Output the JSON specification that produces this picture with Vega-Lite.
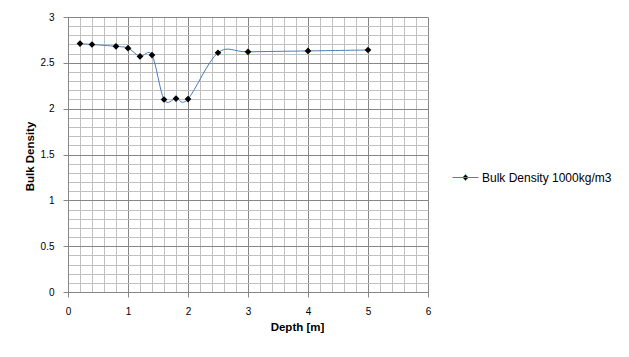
{
  "$schema": "https://vega.github.io/schema/vega-lite/v6.json",
  "width": 360,
  "height": 275,
  "autosize": "none",
  "padding": {"left": 68, "top": 17, "right": 201, "bottom": 65},
  "background": "white",
  "config": {
    "view": {"stroke": null},
    "font": "Liberation Sans"
  },
  "data": {
    "values": [
      {"depth": 0.2, "density": 2.71},
      {"depth": 0.4, "density": 2.70},
      {"depth": 0.8, "density": 2.68},
      {"depth": 1.0, "density": 2.66},
      {"depth": 1.2, "density": 2.57},
      {"depth": 1.4, "density": 2.585},
      {"depth": 1.6, "density": 2.10},
      {"depth": 1.8, "density": 2.11},
      {"depth": 2.0, "density": 2.105},
      {"depth": 2.5, "density": 2.61},
      {"depth": 3.0, "density": 2.62},
      {"depth": 4.0, "density": 2.63},
      {"depth": 5.0, "density": 2.64}
    ]
  },
  "encoding": {
    "x": {
      "field": "depth",
      "type": "quantitative",
      "scale": {"domain": [0, 6], "nice": false, "zero": false},
      "axis": {
        "title": "Depth [m]",
        "titleFont": "Liberation Sans",
        "titleFontSize": 11.5,
        "titleFontWeight": "bold",
        "titleColor": "black",
        "titleX": 229,
        "titleY": 38,
        "titleAlign": "center",
        "titleBaseline": "alphabetic",
        "values": [0,0.2,0.4,0.6,0.8,1,1.2,1.4,1.6,1.8,2,2.2,2.4,2.6,2.8,3,3.2,3.4,3.6,3.8,4,4.2,4.4,4.6,4.8,5,5.2,5.4,5.6,5.8,6],
        "labelExpr": "round(datum.value*10) % 10 === 0 ? format(datum.value, 'd') : ''",
        "labelFont": "Liberation Sans",
        "labelFontSize": 10,
        "labelColor": "black",
        "labelOverlap": false,
        "labelFlush": false,
        "labelBound": false,
        "labelPadding": 9,
        "tickSize": 5,
        "tickColor": {"condition": {"test": "round(datum.value*10) % 10 === 0", "value": "#868686"}, "value": "transparent"},
        "grid": true,
        "gridColor": {"condition": {"test": "round(datum.value*10) % 10 === 0", "value": "#868686"}, "value": "#c0c0c0"},
        "gridWidth": 1,
        "domainColor": "#868686"
      }
    },
    "y": {
      "field": "density",
      "type": "quantitative",
      "scale": {"domain": [0, 3], "nice": false},
      "axis": {
        "title": "Bulk Density",
        "titleFont": "Liberation Sans",
        "titleFontSize": 11.5,
        "titleFontWeight": "bold",
        "titleColor": "black",
        "titleAngle": -90,
        "titleX": -35,
        "titleY": 139,
        "titleAlign": "center",
        "titleBaseline": "alphabetic",
        "values": [0,0.1,0.2,0.3,0.4,0.5,0.6,0.7,0.8,0.9,1,1.1,1.2,1.3,1.4,1.5,1.6,1.7,1.8,1.9,2,2.1,2.2,2.3,2.4,2.5,2.6,2.7,2.8,2.9,3],
        "labelExpr": "round(datum.value*10) % 5 === 0 ? format(datum.value, '~g') : ''",
        "labelFont": "Liberation Sans",
        "labelFontSize": 10,
        "labelColor": "black",
        "labelOverlap": false,
        "labelFlush": false,
        "labelBound": false,
        "labelPadding": 9,
        "tickSize": 5,
        "tickColor": {"condition": {"test": "round(datum.value*10) % 5 === 0", "value": "#868686"}, "value": "transparent"},
        "grid": true,
        "gridColor": {"condition": {"test": "round(datum.value*10) % 5 === 0", "value": "#868686"}, "value": "#c0c0c0"},
        "gridWidth": 1,
        "domainColor": "#868686"
      }
    }
  },
  "layer": [
    {
      "mark": {"type": "line", "interpolate": "cardinal", "tension": 0, "strokeWidth": 1},
      "encoding": {
        "color": {
          "datum": "Bulk Density 1000kg/m3",
          "scale": {"range": ["#4a7ebb"]},
          "legend": {
            "title": null,
            "orient": "none",
            "legendX": 384,
            "legendY": 147,
            "padding": 0,
            "symbolType": "M-1,0H1M-0.23,0L0,-0.23L0.23,0L0,0.23Z",
            "symbolSize": 676,
            "symbolStrokeWidth": 1,
            "labelOffset": 3,
            "labelFont": "Liberation Sans",
            "labelFontSize": 12,
            "labelColor": "black",
            "labelLimit": 300,
            "encode": {
              "symbols": {
                "update": {
                  "fill": {"value": "black"},
                  "stroke": {"value": "#4a7ebb"},
                  "fillOpacity": {"value": 1}
                }
              }
            }
          }
        }
      }
    },
    {
      "mark": {"type": "point", "shape": "diamond", "filled": true, "size": 45, "color": "black", "opacity": 1}
    }
  ]
}
